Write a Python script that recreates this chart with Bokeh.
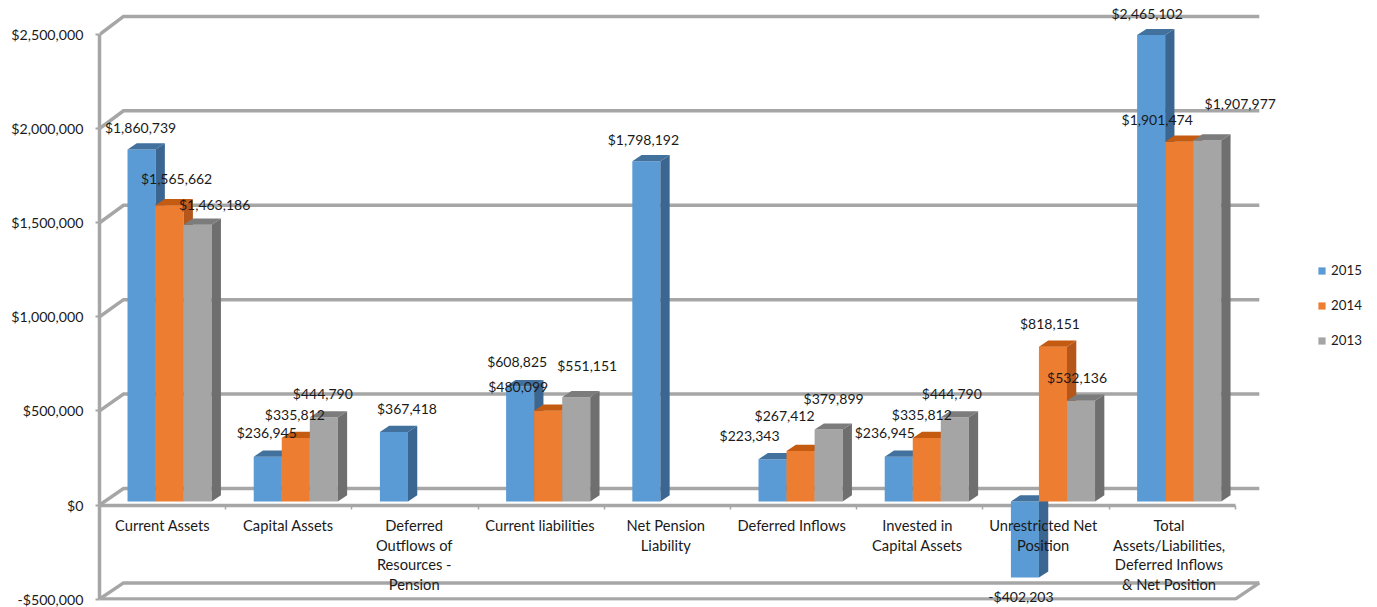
from bokeh.core.properties import value
from bokeh.embed import file_html
from bokeh.models import (ColumnDataSource, FixedTicker, Legend, LegendItem, LinearAxis,
                          NumeralTickFormatter, Range1d)
from bokeh.plotting import figure
from bokeh.resources import INLINE

categories = ["Current Assets", "Capital Assets", "Deferred\nOutflows of\nResources -\nPension",
              "Current liabilities", "Net Pension\nLiability", "Deferred Inflows",
              "Invested in\nCapital Assets", "Unrestricted Net\nPosition",
              "Total\nAssets/Liabilities,\nDeferred Inflows\n& Net Position"]
values_2015 = [1860739, 236945, 367418, 608825, 1798192, 223343, 236945, -402203, 2465102]
values_2014 = [1565662, 335812, None, 480099, None, 267412, 335812, 818151, 1901474]
values_2013 = [1463186, 444790, None, 551151, None, 379899, 444790, 532136, 1907977]
series_names = ["2015", "2014", "2013"]
y_ticks = [-500000, 0, 500000, 1000000, 1500000, 2000000, 2500000]

# label nudges (screen px) from bar centre / bar end, as hand-placed in the original
label_dx = [[-1, -1, 13, -3, -3, -23, -14, -4, -4],
            [7, -1, 0, -30, 0, -16, -5, -3, -22],
            [17, -1, 0, 11, 0, 5, -3, -4, 33]]
label_dy = [[-22, -24, -23, -25, -22, -24, -24, 19, -22],
            [-27, -23, 0, -24, 0, -35, -23, -23, -22],
            [-20, -24, 0, -32, 0, -31, -24, -23, -37]]

FRONT_COLORS = ["#5b9bd5", "#ed7d31", "#a5a5a5"]
TOP_COLORS = ["#41719c", "#c55a11", "#7c7c7c"]
SIDE_COLORS = ["#3a6691", "#b5561a", "#6f6f6f"]
WALL = "#a6a6a6"
FONT = "Lato"

PX_PER_CAT = 126.2
PX_PER_UNIT = 94.08 / 500000
LEFT_PX, ZERO_PX, TOP_PX, BOTTOM_PX, RIGHT_PX = 99, 504.5, 0, 600, 1377

# projection of the pseudo-3D box, all through the figure's own data scales
WALL_DX, WALL_DY = 24 / PX_PER_CAT, 16.5 / PX_PER_UNIT
WALL_STRETCH = 94.42 / 94.08
BAR_DX, BAR_DY = 9.3 / PX_PER_CAT, 6.2 / PX_PER_UNIT
BAR_STRETCH, BAR_LIFT = 94.6 / 94.08, 3.5 / PX_PER_UNIT
BAR_START, BAR_W = 0.222, 0.2222
LABEL_PITCH = 125.8 / PX_PER_CAT


def bar_y(v):
    return v * BAR_STRETCH + BAR_LIFT


p = figure(width=1377, height=607, output_backend="svg", toolbar_location=None,
           x_axis_type=None, y_axis_type=None,
           x_range=Range1d(0, (RIGHT_PX - LEFT_PX) / PX_PER_CAT),
           y_range=Range1d(-(BOTTOM_PX - ZERO_PX) / PX_PER_UNIT, (ZERO_PX - TOP_PX) / PX_PER_UNIT),
           min_border_left=LEFT_PX, min_border_right=0, min_border_top=0,
           min_border_bottom=607 - BOTTOM_PX)
p.outline_line_color = None
p.grid.visible = False

n = len(categories)
# back wall: each gridline runs from the front-left edge, back, and along the wall
wall_xs, wall_ys = [], []
for t in y_ticks:
    back = t * WALL_STRETCH + WALL_DY
    wall_xs.append([0, WALL_DX, n + WALL_DX])
    wall_ys.append([t, back, back])
# floor front edge and right closing edge
floor = y_ticks[0]
wall_xs.append([0, n, n + WALL_DX])
wall_ys.append([floor, floor, floor * WALL_STRETCH + WALL_DY])
p.multi_line(wall_xs, wall_ys, line_color=WALL, line_width=3.5, level="underlay",
             line_join="miter")

# axes
yaxis = LinearAxis(ticker=FixedTicker(ticks=y_ticks), formatter=NumeralTickFormatter(format="$0,0"),
                   bounds=(y_ticks[0], y_ticks[-1]), axis_line_color=WALL, axis_line_width=3.5,
                   major_tick_line_color=WALL, major_tick_line_width=2, major_tick_in=0,
                   major_tick_out=4, minor_tick_line_color=None, major_label_standoff=12,
                   major_label_text_font=FONT, major_label_text_font_size="14.2px",
                   major_label_text_color="#1a1a1a")
p.add_layout(yaxis, "left")

tick_positions = list(range(n + 1))
xline = LinearAxis(ticker=FixedTicker(ticks=tick_positions), bounds=(0, n), fixed_location=0,
                   axis_line_color=WALL, axis_line_width=3.5, major_tick_line_color=WALL,
                   major_tick_line_width=1.5, major_tick_in=0, major_tick_out=4,
                   minor_tick_line_color=None, major_label_text_font=FONT,
                   major_label_overrides={t: "" for t in tick_positions}, level="underlay")
p.add_layout(xline, "below")

# bars
legend_items = []
for s, vals in enumerate([values_2015, values_2014, values_2013]):
    left, right, top, bottom = [], [], [], []
    for i, v in enumerate(vals):
        if v is None:
            continue
        x0 = i + BAR_START + s * BAR_W
        left.append(x0)
        right.append(x0 + BAR_W)
        top.append(bar_y(max(v, 0)))
        bottom.append(bar_y(min(v, 0)))
    r = p.quad(left=left, right=right, top=top, bottom=bottom, fill_color=FRONT_COLORS[s],
               line_color=None)
    p.patches([[l, rr, rr + BAR_DX, l + BAR_DX] for l, rr in zip(left, right)],
              [[t, t, t + BAR_DY, t + BAR_DY] for t in top],
              fill_color=TOP_COLORS[s], line_color=None)
    p.patches([[rr, rr, rr + BAR_DX, rr + BAR_DX] for rr in right],
              [[b, t, t + BAR_DY, b + BAR_DY] for b, t in zip(bottom, top)],
              fill_color=SIDE_COLORS[s], line_color=None)
    legend_items.append(LegendItem(label=series_names[s], renderers=[r]))

# data labels
for s, vals in enumerate([values_2015, values_2014, values_2013]):
    rows = [(i, v) for i, v in enumerate(vals) if v is not None]
    src = ColumnDataSource(dict(
        x=[i + BAR_START + (s + 0.5) * BAR_W for i, v in rows],
        y=[bar_y(v) for i, v in rows],
        t=[("-$" if v < 0 else "$") + f"{abs(v):,}" for i, v in rows],
        dx=[label_dx[s][i] for i, v in rows],
        dy=[label_dy[s][i] for i, v in rows]))
    p.text(x="x", y="y", text="t", x_offset="dx", y_offset="dy", source=src, text_align="center",
           text_baseline="middle", text_font=value(FONT), text_font_size=value("14px"),
           text_color="#1a1a1a", level="overlay")

# category labels sit on top of the bars
centres = [0.5 + i * LABEL_PITCH for i in range(n)]
xlabels = LinearAxis(ticker=FixedTicker(ticks=centres),
                     major_label_overrides={c: t for c, t in zip(centres, categories)},
                     fixed_location=0, axis_line_color=None, major_tick_line_color=None,
                     minor_tick_line_color=None, major_label_standoff=11, major_tick_out=0,
                     major_tick_in=0, major_label_text_font=FONT, major_label_text_font_size="14.7px",
                     major_label_text_color="#1a1a1a", major_label_text_line_height=1.09,
                     level="overlay")
p.add_layout(xlabels, "below")

legend = Legend(items=legend_items, location=(1218, 250), orientation="vertical",
                background_fill_alpha=0, border_line_color=None, margin=0, padding=0,
                glyph_width=9, glyph_height=9, label_standoff=5, label_height=20, spacing=15,
                label_text_font=FONT, label_text_font_size="13.3px", label_text_color="#1a1a1a")
p.add_layout(legend, "center")

open("out.html", "w").write(file_html(p, INLINE))
